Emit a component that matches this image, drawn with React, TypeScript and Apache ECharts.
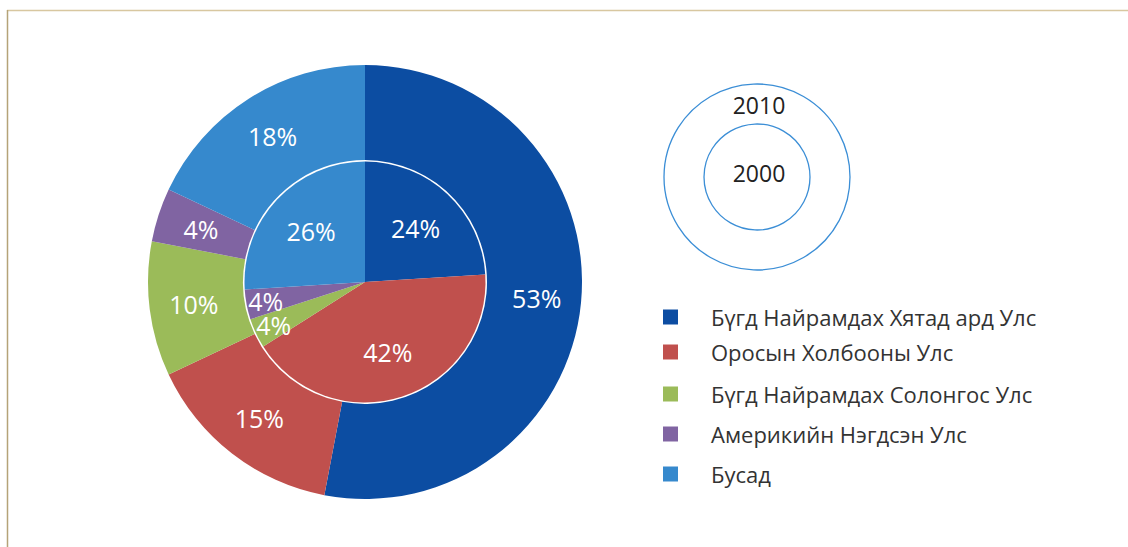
import React, { useEffect, useRef } from 'react';
import * as echarts from 'echarts';

const categories = [
  'Бүгд Найрамдах Хятад ард Улс',
  'Оросын Холбооны Улс',
  'Бүгд Найрамдах Солонгос Улс',
  'Америкийн Нэгдсэн Улс',
  'Бусад',
];
const colors = ['#0c4da2', '#c0504d', '#9bbb59', '#8064a2', '#3689cd'];
const values2010 = [53, 15, 10, 4, 18];
const values2000 = [24, 42, 4, 4, 26];
const ringLabels = ['2010', '2000'];
const smallInnerIdx = [2, 3];

const legendTops = [306, 341, 383, 423, 463];
const FONT = '"Open Sans", "Noto Sans", sans-serif';

export default function App() {
  const ref = useRef<HTMLDivElement>(null);
  useEffect(() => {
    document.body.style.margin = '0';
    const chart = echarts.init(ref.current!, null, { renderer: 'svg' });
    const center = [365, 282];
    const labelStyle = {
      show: true,
      position: 'inside',
      formatter: '{c}%',
      color: '#ffffff',
      fontSize: 25,
      fontFamily: FONT,
      fontWeight: 400,
      overflow: 'none',
    };
    const outerData = categories.map((n, i) => ({ name: n, value: values2010[i], itemStyle: { color: colors[i] } }));
    const innerData = categories.map((n, i) => ({ name: n, value: values2000[i], itemStyle: { color: colors[i] } }));
    const labelData = (show: (i: number) => boolean) =>
      categories.map((n, i) => ({
        name: n,
        value: values2000[i],
        itemStyle: { color: 'rgba(0,0,0,0)' },
        label: { show: show(i) },
      }));
    const common = {
      type: 'pie',
      center,
      startAngle: 90,
      clockwise: true,
      silent: true,
      avoidLabelOverlap: false,
      minShowLabelAngle: 0,
      labelLayout: { hideOverlap: false },
      labelLine: { show: false },
      emphasis: { disabled: true },
    };
    chart.setOption({
      animation: false,
      legend: categories.map((n, i) => ({
        data: [n],
        left: 663,
        top: legendTops[i],
        padding: 0,
        orient: 'vertical',
        icon: 'rect',
        itemWidth: 15,
        itemHeight: 15,
        selectedMode: false,
        textStyle: {
          color: '#333333',
          fontSize: 22,
          fontFamily: FONT,
          lineHeight: 22,
          padding: [0, 0, 0, 28],
        },
      })),
      graphic: [
        { type: 'line', shape: { x1: 7, y1: 10.5, x2: 1128, y2: 10.5 }, style: { stroke: '#d8c7a0', lineWidth: 1.5 } },
        { type: 'line', shape: { x1: 7.5, y1: 10, x2: 7.5, y2: 547 }, style: { stroke: '#b5a378', lineWidth: 1.5 } },
        { type: 'circle', shape: { cx: 757, cy: 177, r: 93 }, style: { fill: 'none', stroke: '#3b8ed6', lineWidth: 1.3 } },
        { type: 'circle', shape: { cx: 757, cy: 177, r: 53 }, style: { fill: 'none', stroke: '#3b8ed6', lineWidth: 1.3 } },
        { type: 'text', x: 759, y: 105, style: { text: ringLabels[0], fill: '#222222', fontSize: 23, fontFamily: FONT, align: 'center', verticalAlign: 'middle' } },
        { type: 'text', x: 759, y: 173, style: { text: ringLabels[1], fill: '#222222', fontSize: 23, fontFamily: FONT, align: 'center', verticalAlign: 'middle' } },
      ],
      series: [
        { ...common, name: '2010', radius: [122, 217], data: outerData, label: labelStyle },
        { ...common, name: '2000', radius: [0, 120.5], data: innerData, label: { show: false } },
        { ...common, name: 'l1', radius: [22, 120], data: labelData((i) => !smallInnerIdx.includes(i)), label: labelStyle },
        { ...common, name: 'l2', radius: [76, 120], data: labelData((i) => i === smallInnerIdx[0]), label: labelStyle },
        { ...common, name: 'l3', radius: [76, 120], data: labelData((i) => i === smallInnerIdx[1]), label: labelStyle },
      ],
    });
    return () => chart.dispose();
  }, []);
  return <div ref={ref} style={{ width: 1128, height: 547 }} />;
}
